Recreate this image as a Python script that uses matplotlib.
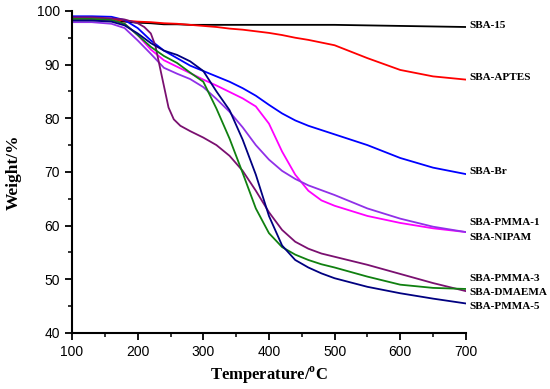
import matplotlib.pyplot as plt
from matplotlib.ticker import MultipleLocator

# temperature grid (deg C) used for most curves
temp = [100, 130, 160, 180, 200, 220, 240, 260, 280, 300, 320, 340, 360, 380, 400,
        420, 440, 460, 480, 500, 550, 600, 650, 700]

sba15 = [98.3, 98.3, 98.2, 98.0, 97.8, 97.7, 97.5, 97.5, 97.4, 97.4, 97.4, 97.4, 97.4, 97.4, 97.4,
         97.4, 97.4, 97.4, 97.4, 97.4, 97.3, 97.2, 97.1, 97.0]
aptes = [98.8, 98.7, 98.5, 98.2, 98.0, 97.9, 97.7, 97.6, 97.4, 97.2, 97.0, 96.7, 96.5, 96.2, 95.9,
         95.5, 95.0, 94.6, 94.1, 93.6, 91.2, 89.0, 87.8, 87.2]
br = [99.0, 99.0, 98.9, 98.3, 96.8, 94.5, 92.6, 91.2, 89.8, 88.8, 87.8, 86.8, 85.6, 84.2, 82.5,
      80.9, 79.6, 78.6, 77.8, 77.0, 75.0, 72.6, 70.8, 69.6]
pmma1 = [98.5, 98.5, 98.3, 97.6, 95.5, 92.8, 90.8, 89.6, 88.4, 87.2, 86.1, 84.9, 83.7, 82.2, 79.0,
         73.8, 69.5, 66.5, 64.7, 63.7, 61.8, 60.5, 59.5, 58.8]
nipam = [97.9, 97.9, 97.6, 96.8, 94.5, 92.0, 89.4, 88.3, 87.3, 85.8, 83.6, 81.2, 78.3, 75.0, 72.3,
         70.2, 68.7, 67.5, 66.6, 65.7, 63.2, 61.3, 59.8, 58.8]
dmaema = [98.5, 98.5, 98.3, 97.6, 95.5, 93.3, 91.6, 90.3, 88.5, 86.8, 81.8, 76.2, 69.8, 63.2, 58.6,
          56.0, 54.6, 53.6, 52.8, 52.2, 50.5, 49.0, 48.4, 48.2]
pmma5 = [98.2, 98.2, 98.0, 97.3, 95.8, 94.0, 92.6, 91.8, 90.6, 88.8, 85.0, 81.5, 76.0, 69.5, 61.8,
         56.3, 53.6, 52.2, 51.1, 50.2, 48.6, 47.4, 46.4, 45.5]

# SBA-PMMA-3 has a sharp step near 230 C, so it gets its own grid
temp_p3 = [100, 130, 160, 180, 200, 210, 220, 227, 233, 240, 247, 255, 265, 280, 300, 320, 340,
           360, 380, 400, 420, 440, 460, 480, 500, 550, 600, 650, 700]
pmma3 = [98.8, 98.8, 98.6, 98.4, 97.7, 97.0, 95.8, 93.5, 90.0, 86.0, 82.0, 79.8, 78.6, 77.6, 76.4,
         75.0, 73.0, 70.2, 66.5, 62.5, 59.2, 57.0, 55.7, 54.8, 54.2, 52.7, 51.0, 49.3, 47.8]

labels = ["SBA-15", "SBA-APTES", "SBA-Br", "SBA-PMMA-1", "SBA-NIPAM", "SBA-PMMA-3", "SBA-DMAEMA", "SBA-PMMA-5"]
label_y = [97.2, 87.5, 70.0, 60.5, 57.7, 50.2, 47.6, 45.0]

fig = plt.figure(figsize=(5.5, 3.89), dpi=100)
ax = fig.add_axes([0.131, 0.144, 0.716, 0.828])

lw = 1.3
kw = dict(lw=lw, solid_joinstyle='round')
ax.plot(temp, sba15, color='black', **kw)
ax.plot(temp, aptes, color='#ff0000', **kw)
ax.plot(temp, br, color='#0000ff', **kw)
ax.plot(temp, pmma1, color='#ff00ff', **kw)
ax.plot(temp, nipam, color='#9030e8', **kw)
ax.plot(temp_p3, pmma3, color='#7a1070', **kw)
ax.plot(temp, dmaema, color='#108010', **kw)
ax.plot(temp, pmma5, color='#000080', **kw)

for name, y in zip(labels, label_y):
    ax.text(706, y, name, fontsize=8, fontweight='bold', family='Liberation Serif',
            va='center', ha='left', clip_on=False)

ax.set_xlim(100, 700)
ax.set_ylim(40, 100)
ax.xaxis.set_major_locator(MultipleLocator(100))
ax.xaxis.set_minor_locator(MultipleLocator(50))
ax.yaxis.set_major_locator(MultipleLocator(10))
ax.yaxis.set_minor_locator(MultipleLocator(5))

for s in ['top', 'right']:
    ax.spines[s].set_visible(False)
for s in ['left', 'bottom']:
    ax.spines[s].set_linewidth(1.5)

ax.tick_params(which='major', direction='out', length=5, width=1.3, labelsize=10)
ax.tick_params(which='minor', direction='out', length=3, width=1.1)
for lab in ax.get_xticklabels() + ax.get_yticklabels():
    lab.set_family('Liberation Sans')

ax.set_xlabel("Temperature/$^{\\mathregular{o}}$C", fontsize=12, fontweight='bold',
              family='Liberation Serif', labelpad=4)
ax.set_ylabel("Weight/%", fontsize=12.5, fontweight='bold', family='Liberation Serif', labelpad=11)

plt.savefig('out.png', dpi=100)
